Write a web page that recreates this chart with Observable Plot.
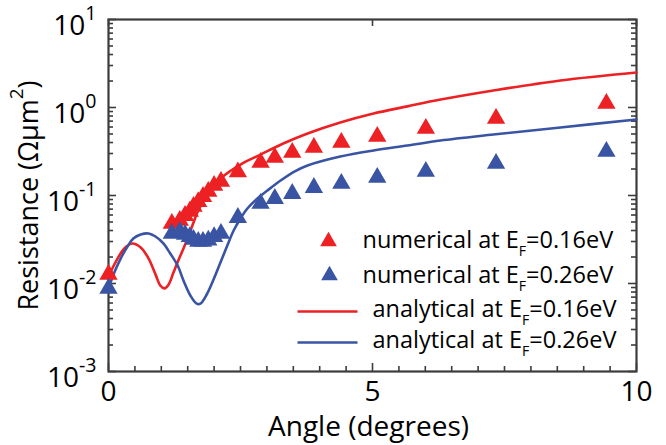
<!DOCTYPE html>
<html><head><meta charset="utf-8">
<script src="https://cdn.jsdelivr.net/npm/d3@7"></script>
<script src="https://cdn.jsdelivr.net/npm/@observablehq/plot@0.6"></script>
<style>body{margin:0;background:#fff}</style>
</head><body><div id="chart"></div>
<script>
// ---- data ----
const numAngles = [0, 1.20, 1.35, 1.45, 1.54, 1.61, 1.70, 1.79, 1.89, 2.00, 2.13, 2.45, 2.88, 3.15, 3.48, 3.89, 4.41, 5.09, 6.01, 7.34, 9.43];
const numRes016 = [0.0127, 0.048, 0.052, 0.059, 0.066, 0.075, 0.085, 0.097, 0.111, 0.130, 0.144, 0.185, 0.237, 0.270, 0.308, 0.351, 0.40, 0.468, 0.577, 0.75, 1.11];
const numRes026 = [0.0088, 0.037, 0.039, 0.036, 0.034, 0.0316, 0.030, 0.030, 0.031, 0.034, 0.037, 0.056, 0.081, 0.092, 0.105, 0.123, 0.137, 0.160, 0.187, 0.231, 0.316];

const anaAngles016 = [0, 0.15, 0.30, 0.45, 0.61, 0.76, 0.89, 0.98, 1.06, 1.14, 1.23, 1.33, 1.42, 1.52, 1.61, 1.70, 1.88, 2.12, 2.50, 2.88, 3.31, 3.77, 4.39, 5.02, 5.66, 6.29, 7.29, 8.56, 10];
const anaRes016 = [0.0120, 0.0182, 0.0250, 0.0285, 0.0257, 0.0192, 0.0127, 0.0095, 0.0088, 0.00975, 0.0133, 0.0187, 0.0250, 0.0351, 0.0493, 0.0676, 0.105, 0.156, 0.225, 0.292, 0.390, 0.507, 0.676, 0.855, 1.03, 1.23, 1.56, 2.03, 2.50];

const anaAngles026 = [0, 0.11, 0.23, 0.36, 0.47, 0.61, 0.76, 0.89, 1.04, 1.17, 1.31, 1.42, 1.55, 1.67, 1.74, 1.86, 1.99, 2.12, 2.25, 2.37, 2.50, 2.63, 2.82, 3.01, 3.26, 3.52, 3.77, 4.39, 5.02, 5.66, 6.29, 7.29, 8.56, 10];
const anaRes026 = [0.00877, 0.0133, 0.0192, 0.0263, 0.0324, 0.0360, 0.0370, 0.0342, 0.0285, 0.0219, 0.0160, 0.0108, 0.0073, 0.0059, 0.0059, 0.0075, 0.0111, 0.0173, 0.0270, 0.040, 0.0548, 0.0711, 0.0925, 0.114, 0.148, 0.187, 0.219, 0.277, 0.325, 0.370, 0.422, 0.493, 0.593, 0.73];

const xTickLabels = [0, 5, 10];
const yTickExponents = [-3, -2, -1, 0, 1];
const legendLabels = ["numerical at E_{F}=0.16eV", "numerical at E_{F}=0.26eV", "analytical at E_{F}=0.16eV", "analytical at E_{F}=0.26eV"];
const xLabel = "Angle (degrees)";
const yLabel = "Resistance (\u03A9\u03BCm^{2})";

// ---- styling ----
const RED = "#ED2024", BLUE = "#3A54A4", AXIS = "#3c3c3c";
const W = 666, H = 445, ML = 108, MR = 30, MT = 19, MB = 74;
const PW = W - ML - MR, PH = H - MT - MB;

const num016 = numAngles.map((a, i) => ({a, r: numRes016[i]}));
const num026 = numAngles.map((a, i) => ({a, r: numRes026[i]}));
const ana016 = anaAngles016.map((a, i) => ({a, r: anaRes016[i]}));
const ana026 = anaAngles026.map((a, i) => ({a, r: anaRes026[i]}));

const xMinor = d3.range(0, 10.001, 0.5).filter(v => !xTickLabels.includes(v));
const yMajor = yTickExponents.map(e => 10 ** e);
const yMinor = [];
for (let e = -3; e < 1; e++) for (let k = 2; k <= 9; k++) yMinor.push(k * 10 ** e);

const lineSymbol = {draw(ctx) { ctx.moveTo(-30, 0); ctx.lineTo(30, 0); }};
const tickStyle = {stroke: AXIS, strokeWidth: 1.6};

const chart = Plot.plot({
  width: W, height: H,
  marginLeft: ML, marginRight: MR, marginTop: MT, marginBottom: MB,
  style: {fontFamily: "'Open Sans', sans-serif", fontSize: "28px", background: "white", color: "black"},
  x: {domain: [0, 10], axis: null},
  y: {type: "log", domain: [1e-3, 10], axis: null},
  marks: [
    // ticks (inward)
    Plot.tickX(xMinor, {x: d => d, insetTop: PH - 5, ...tickStyle}),
    Plot.tickX(xTickLabels, {x: d => d, insetTop: PH - 8, ...tickStyle}),
    Plot.tickX(xTickLabels, {x: d => d, insetBottom: PH - 7, ...tickStyle}),
    Plot.tickY(yMinor, {y: d => d, insetRight: PW - 5, ...tickStyle}),
    Plot.tickY(yMajor, {y: d => d, insetRight: PW - 8, ...tickStyle}),
    Plot.tickY(yMinor, {y: d => d, insetLeft: PW - 5, ...tickStyle}),
    Plot.tickY(yMajor, {y: d => d, insetLeft: PW - 8, ...tickStyle}),
    Plot.frame({stroke: AXIS, strokeWidth: 2.2}),
    // analytical curves
    Plot.line(ana016, {x: "a", y: "r", stroke: RED, strokeWidth: 2.6, curve: "catmull-rom"}),
    Plot.line(ana026, {x: "a", y: "r", stroke: BLUE, strokeWidth: 2.6, curve: "catmull-rom"}),
    // numerical points
    Plot.dot(num016, {x: "a", y: "r", symbol: "triangle", r: 6.8, fill: RED}),
    Plot.dot(num026, {x: "a", y: "r", symbol: "triangle", r: 6.8, fill: BLUE}),
    // tick labels
    Plot.text(xTickLabels, {x: d => d, frameAnchor: "bottom", lineAnchor: "middle", dy: 21, text: d => String(d), fontSize: 28}),
    Plot.text(yTickExponents, {y: e => 10 ** e, frameAnchor: "left", lineAnchor: "middle", dx: -12, dy: 7, textAnchor: "end", text: e => `10^{${e}}`, fontSize: 28}),
    // axis titles
    Plot.text([xLabel], {frameAnchor: "bottom", textAnchor: "middle", lineAnchor: "middle", dx: -4, dy: 56, fontSize: 28}),
    Plot.text([yLabel], {frameAnchor: "left", textAnchor: "middle", lineAnchor: "middle", dx: -79, rotate: -90, fontSize: 27}),
    // legend
    Plot.dot([0], {frameAnchor: "top-left", dx: 220, dy: 222, symbol: "triangle", r: 6.2, fill: RED}),
    Plot.dot([0], {frameAnchor: "top-left", dx: 221, dy: 256, symbol: "triangle", r: 6.2, fill: BLUE}),
    Plot.dot([0], {frameAnchor: "top-left", dx: 219, dy: 292, symbol: lineSymbol, r: 5, fill: "none", stroke: RED, strokeWidth: 2.6}),
    Plot.dot([0], {frameAnchor: "top-left", dx: 219, dy: 323, symbol: lineSymbol, r: 5, fill: "none", stroke: BLUE, strokeWidth: 2.6}),
    Plot.text([legendLabels[0]], {frameAnchor: "top-left", lineAnchor: "middle", dx: 254, dy: 221, textAnchor: "start", fontSize: 23.5}),
    Plot.text([legendLabels[1]], {frameAnchor: "top-left", lineAnchor: "middle", dx: 254, dy: 256, textAnchor: "start", fontSize: 23.5}),
    Plot.text([legendLabels[2]], {frameAnchor: "top-left", lineAnchor: "middle", dx: 264, dy: 290, textAnchor: "start", fontSize: 23.5}),
    Plot.text([legendLabels[3]], {frameAnchor: "top-left", lineAnchor: "middle", dx: 264, dy: 321, textAnchor: "start", fontSize: 23.5})
  ]
});

// turn ^{..} and _{..} into super/subscript tspans
function richify(svg) {
  d3.select(svg).selectAll("text").each(function () {
    const t = this.textContent;
    if (!/[\^_]\{/.test(t)) return;
    const fs = parseFloat(getComputedStyle(this).fontSize) || 20;
    const re = /(\^|_)\{([^}]*)\}/g;
    const parts = [];
    let last = 0, m;
    while ((m = re.exec(t))) {
      if (m.index > last) parts.push({s: t.slice(last, m.index)});
      parts.push({s: m[2], k: m[1]});
      last = re.lastIndex;
    }
    if (last < t.length) parts.push({s: t.slice(last)});
    this.textContent = "";
    const el = d3.select(this);
    let cur = 0;
    for (const p of parts) {
      const target = p.k === "^" ? -0.55 * fs : p.k === "_" ? 0.32 * fs : 0;
      const ts = el.append("tspan").text(p.s).attr("dy", target - cur);
      if (p.k === "^") ts.attr("font-size", 0.7 * fs);
      if (p.k === "_") ts.attr("font-size", 0.6 * fs);
      cur = target;
    }
  });
}
document.getElementById("chart").append(chart);
richify(chart);
</script>
</body></html>
